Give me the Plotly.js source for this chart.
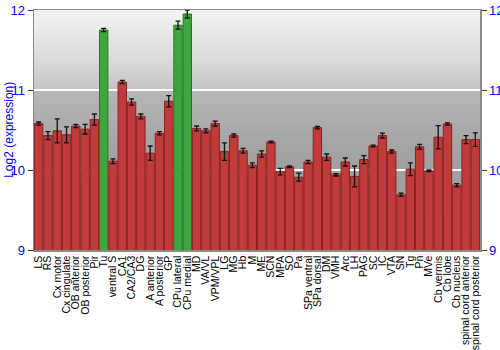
<!DOCTYPE html>
<html>
<head>
<meta charset="utf-8">
<script src="https://cdn.plot.ly/plotly-3.0.1.min.js"></script>
<style>
  html, body { margin: 0; padding: 0; background: #ffffff; }
  #wrap { position: relative; width: 500px; height: 350px; }
  #bg { position: absolute; left: 34px; top: 10px; width: 446px; height: 240px;
        background: linear-gradient(to bottom, #f4f4f4 0%, #d8d8d8 22%, #c4c4c4 33.2%, #b6b6b6 33.5%, #a2a2a2 60%, #9c9c9c 100%); }
  #chart { position: absolute; left: 0; top: 0; width: 500px; height: 350px; }
</style>
</head>
<body>
<div id="wrap"><div id="bg"></div><div id="chart"></div></div>
<script>
const regions = ["LS","RS","Cx motor","Cx cingulate","OB anterior","OB posterior","Pir","Tu",
  "ventral S","CA1","CA2/CA3","DG","A anterior","A posterior","GP","CPu lateral","CPu medial",
  "MD","VA/VL","VPM/VPL","LG","MG","Hb","M","ME","SCN","MPA","SO","Pa","SPa ventral","SPa dorsal",
  "DM","VMH","Arc","LH","PAG","SC","IC","VTA","SN","Tg","Pn","MVe","Cb vermis","Cb lobe",
  "Cb nucleus","spinal cord anterior","spinal cord posterior"];
const expression = [10.58,10.43,10.49,10.44,10.55,10.51,10.63,11.75,
  10.11,11.10,10.85,10.67,10.21,10.46,10.86,11.81,11.95,
  10.52,10.49,10.58,10.23,10.43,10.24,10.06,10.20,10.35,9.98,10.04,9.91,10.10,10.53,
  10.16,9.94,10.10,9.92,10.13,10.30,10.43,10.23,9.69,10.01,10.29,9.99,10.41,10.575,
  9.81,10.38,10.38];
const errorValues = [0.02,0.05,0.15,0.10,0.02,0.06,0.07,0.02,
  0.03,0.02,0.04,0.03,0.09,0.02,0.07,0.05,0.05,
  0.03,0.025,0.03,0.11,0.02,0.03,0.03,0.04,0.01,0.04,0.01,0.05,0.02,0.015,
  0.04,0.015,0.05,0.13,0.05,0.01,0.03,0.02,0.02,0.08,0.03,0.01,0.145,0.015,
  0.02,0.05,0.085];
const highlighted = ["Tu","CPu lateral","CPu medial"];
const yTicks = [9,10,11,12];

const fillColors = regions.map(r => highlighted.includes(r) ? "#3fa53f" : "#c23b3b");
const lineColors = regions.map(r => highlighted.includes(r) ? "#237a23" : "#8c2020");

const trace = {
  type: "bar",
  x: regions,
  y: expression,
  marker: { color: fillColors, line: { color: lineColors, width: 1 } },
  error_y: { type: "data", array: errorValues, visible: true, color: "#111111", thickness: 1.3, width: 2.5 },
  hoverinfo: "x+y"
};

const fontFam = "Liberation Sans, Arial, sans-serif";
const axisFontBlue = { family: fontFam, size: 13, color: "#0000ff" };

const layout = {
  width: 500, height: 350,
  margin: { l: 34, r: 20, t: 10, b: 100 },
  paper_bgcolor: "rgba(0,0,0,0)",
  plot_bgcolor: "rgba(0,0,0,0)",
  showlegend: false,
  bargap: 0.1,
  xaxis: {
    type: "category",
    range: [-0.5, regions.length - 0.5],
    tickmode: "array",
    tickvals: regions,
    ticktext: regions,
    tickangle: -90,
    tickfont: { family: fontFam, size: 10.5, color: "#000000" },
    ticks: "",
    showgrid: false,
    showline: true, mirror: true, linecolor: "#8a8a8a", linewidth: 1.5,
    automargin: false
  },
  yaxis: {
    range: [9, 12],
    tickvals: yTicks,
    ticktext: yTicks.map(String),
    tickfont: axisFontBlue,
    ticks: "outside", ticklen: 5, tickcolor: "#333333",
    showgrid: true, gridcolor: "#ffffff", gridwidth: 1.5,
    zeroline: false,
    showline: true, linecolor: "#8a8a8a", linewidth: 1.5,
    automargin: false
  },
  yaxis2: {
    overlaying: "y", side: "right", anchor: "x",
    range: [9, 12],
    tickvals: yTicks,
    ticktext: yTicks.map(String),
    tickfont: axisFontBlue,
    ticks: "outside", ticklen: 5, tickcolor: "#333333",
    showgrid: false, zeroline: false,
    showline: true, linecolor: "#8a8a8a", linewidth: 1.5,
    automargin: false
  },
  annotations: [{
    text: "Log2 (expression)",
    xref: "paper", yref: "paper",
    x: -0.0565, y: 0.5,
    xanchor: "center", yanchor: "middle",
    textangle: -90, showarrow: false,
    font: { family: fontFam, size: 12, color: "#0000ff" }
  }]
};

const ghost = { type: "scatter", x: [regions[0]], y: [expression[0]], yaxis: "y2", mode: "markers",
  marker: { opacity: 0 }, hoverinfo: "skip", showlegend: false };

Plotly.newPlot("chart", [trace, ghost], layout, { displayModeBar: false, staticPlot: true });
</script>
</body>
</html>
